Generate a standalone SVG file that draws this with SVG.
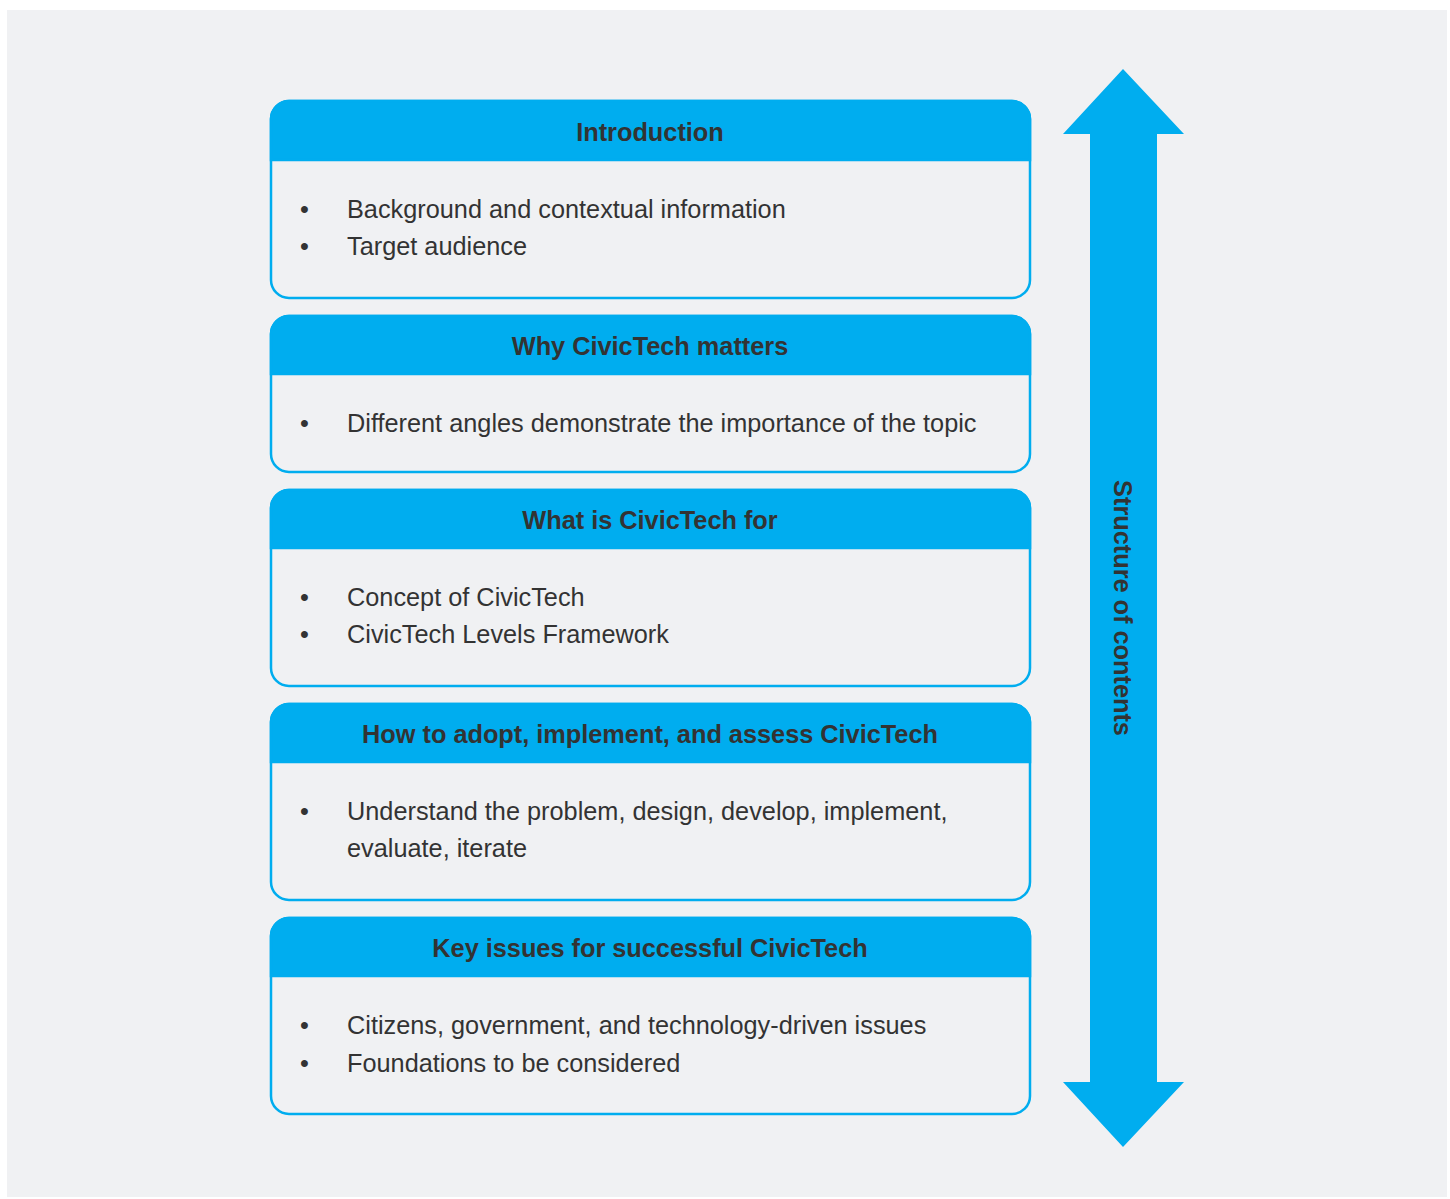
<svg xmlns="http://www.w3.org/2000/svg" width="1450" height="1199" viewBox="0 0 1450 1199">
<style>
.box{fill:#f0f1f3;stroke:#00adef;stroke-width:2.5}
.hdr{fill:#00adef;stroke:#00adef;stroke-width:2.5}
.ht{font-family:"Liberation Sans",Arial,sans-serif;font-size:25.3px;font-weight:bold;fill:#333;text-anchor:middle}
.bt{font-family:"Liberation Sans",Arial,sans-serif;font-size:25.3px;fill:#333}
</style>
<rect x="0" y="0" width="1450" height="1199" fill="#ffffff"/>
<rect x="7" y="10" width="1440" height="1187" fill="#f0f1f3"/>
<g id="connectors">
<polygon id="arrow" points="1123,69 1184,134 1157,134 1157,1082 1184,1082 1123,1147 1063,1082 1090,1082 1090,134 1063,134" fill="#00adef"/>
<text class="ht" transform="translate(1114,608) rotate(90)">Structure of contents</text>
</g>
<g id="node1">
<rect class="box" x="271" y="101" width="759" height="197" rx="18"/>
<path class="hdr" d="M271,160 V119 A18,18 0 0 1 289,101 H1012 A18,18 0 0 1 1030,119 V160 Z"/>
<text class="ht" x="650" y="141">Introduction</text>
<text class="bt" x="300" y="218">•</text><text class="bt" x="347" y="218">Background and contextual information</text>
<text class="bt" x="300" y="255">•</text><text class="bt" x="347" y="255">Target audience</text>
</g>
<g id="node2">
<rect class="box" x="271" y="316" width="759" height="156" rx="18"/>
<path class="hdr" d="M271,374 V334 A18,18 0 0 1 289,316 H1012 A18,18 0 0 1 1030,334 V374 Z"/>
<text class="ht" x="650" y="355">Why CivicTech matters</text>
<text class="bt" x="300" y="432">•</text><text class="bt" x="347" y="432">Different angles demonstrate the importance of the topic</text>
</g>
<g id="node3">
<rect class="box" x="271" y="490" width="759" height="196" rx="18"/>
<path class="hdr" d="M271,548 V508 A18,18 0 0 1 289,490 H1012 A18,18 0 0 1 1030,508 V548 Z"/>
<text class="ht" x="650" y="529">What is CivicTech for</text>
<text class="bt" x="300" y="606">•</text><text class="bt" x="347" y="606">Concept of CivicTech</text>
<text class="bt" x="300" y="643">•</text><text class="bt" x="347" y="643">CivicTech Levels Framework</text>
</g>
<g id="node4">
<rect class="box" x="271" y="704" width="759" height="196" rx="18"/>
<path class="hdr" d="M271,762 V722 A18,18 0 0 1 289,704 H1012 A18,18 0 0 1 1030,722 V762 Z"/>
<text class="ht" x="650" y="743">How to adopt, implement, and assess CivicTech</text>
<text class="bt" x="300" y="820">•</text><text class="bt" x="347" y="820">Understand the problem, design, develop, implement,</text>
<text class="bt" x="347" y="857">evaluate, iterate</text>
</g>
<g id="node5">
<rect class="box" x="271" y="918" width="759" height="196" rx="18"/>
<path class="hdr" d="M271,976 V936 A18,18 0 0 1 289,918 H1012 A18,18 0 0 1 1030,936 V976 Z"/>
<text class="ht" x="650" y="957">Key issues for successful CivicTech</text>
<text class="bt" x="300" y="1034">•</text><text class="bt" x="347" y="1034">Citizens, government, and technology-driven issues</text>
<text class="bt" x="300" y="1072">•</text><text class="bt" x="347" y="1072">Foundations to be considered</text>
</g>
</svg>
